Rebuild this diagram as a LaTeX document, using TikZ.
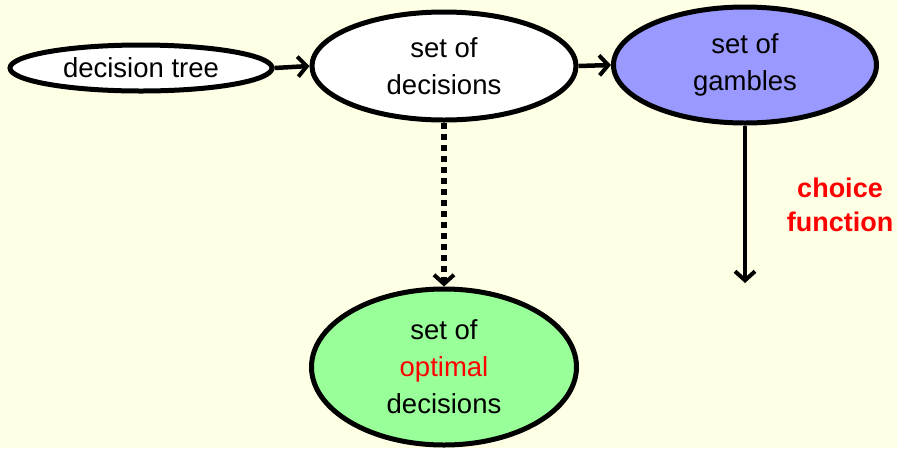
\documentclass[tikz,border=0pt]{standalone}
\usepackage{fontspec}
\setmainfont{Liberation Sans}
\usetikzlibrary{shapes.geometric,arrows.meta}
\definecolor{bgyellow}{RGB}{255,255,230}
\definecolor{gamblefill}{RGB}{153,153,255}
\definecolor{optfill}{RGB}{153,255,153}
\definecolor{hired}{RGB}{255,0,0}
\begin{document}
\begin{tikzpicture}[x=1pt,y=-1pt,
  oval/.style={ellipse, draw=black, line width=5pt, inner sep=0pt, align=center,
    font=\fontsize{27.5}{37}\selectfont},
  tip/.style={-{Straight Barb[length=9pt,width=20pt,line width=4pt]}},
  flow/.style={line width=4.5pt, tip},
  dotflow/.style={line width=6pt, dash pattern=on 6pt off 5pt, tip}]
  % canvas
  \fill[bgyellow] (0,0) rectangle (897,448);
  \useasboundingbox (0,0) rectangle (897,448);

  % ovals
  \node[oval, fill=white, minimum width=262pt, minimum height=46pt] (tree) at (141,68) {decision tree};
  \node[oval, fill=white, minimum width=264pt, minimum height=108pt] (decs) at (444,66) {set of\\decisions};
  \node[oval, fill=gamblefill, minimum width=263pt, minimum height=116pt] (gamb) at (745,65) {set of\\gambles};
  \node[oval, fill=optfill, minimum width=265pt, minimum height=156pt] (opt) at (444,367)
    {set of\\\textcolor{hired}{optimal}\\decisions};

  % label and free end of the choice arrow
  \node[align=center, text=hired, font=\fontsize{27}{34}\selectfont\bfseries] (choice) at (840,205) {choice\\function};
  \coordinate (cend) at (745,283);

  % connectors
  \draw[flow] (tree.east) -- (decs.west);
  \draw[flow] (decs.east) -- (gamb.west);
  \draw[dotflow] (decs.south) -- (opt.north);
  \draw[flow] (gamb.south) -- (cend);
\end{tikzpicture}
\end{document}
